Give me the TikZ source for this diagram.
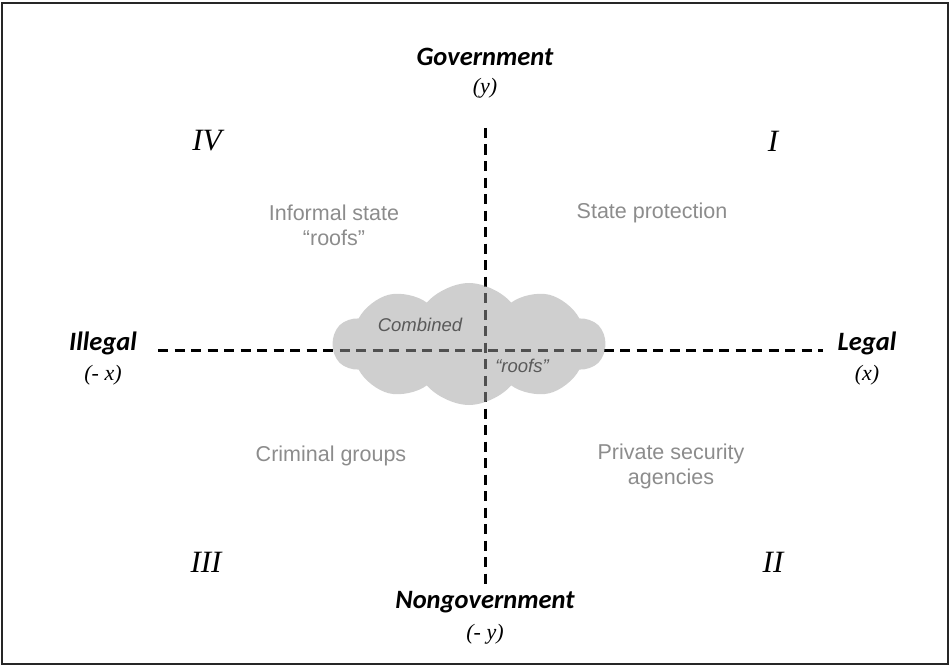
\documentclass[tikz,border=0pt]{standalone}
\usepackage{fontspec}
\setmainfont{Liberation Serif}
\setsansfont{Liberation Sans}
\newfontfamily\calfont{Carlito}
\usetikzlibrary{shapes,arrows,positioning}

\definecolor{cloudgray}{RGB}{160,160,160}
\definecolor{labelgray}{RGB}{140,140,140}

\begin{document}
\begin{tikzpicture}[x=1pt, y=-1pt, node distance=14pt]
    \tikzstyle{axis} = [draw, line width=3pt, dash pattern=on 10pt off 6.5pt]
    \tikzstyle{pole} = [inner sep=0pt, font=\calfont\bfseries\itshape\fontsize{26.5}{30}\selectfont]
    \tikzstyle{note} = [inner sep=0pt, font=\itshape\fontsize{22}{26}\selectfont]
    \tikzstyle{quad} = [inner sep=0pt, font=\itshape\fontsize{31}{36}\selectfont]
    \tikzstyle{kind} = [inner sep=0pt, align=center, text=labelgray, font=\sffamily\fontsize{21.5}{25}\selectfont]
    \tikzstyle{inner} = [inner sep=0pt, text=black!65, font=\sffamily\itshape\fontsize{18.5}{22}\selectfont]

    \useasboundingbox (0,0) rectangle (950,666);
    \draw[line width=2.2pt, black!85] (2,3) rectangle (948,664);

    % axes
    \coordinate (top) at (485,128);
    \coordinate (bottom) at (485,587);
    \coordinate (left) at (158,350);
    \coordinate (right) at (823,350);
    \path[axis] (left) -- (right);
    \path[axis] (top) -- (bottom);

    % poles
    \node[pole] (gov) at (485,57) {Government};
    \node[note, below=12pt of gov] (govy) {(y)};
    \node[pole] (nongov) at (485,602) {Nongovernment};
    \node[note, below=11pt of nongov] (nongovy) {(- y)};
    \node[pole] (illegal) at (103,343) {Illegal};
    \node[note, below=10pt of illegal] (illegalx) {(- x)};
    \node[pole] (legal) at (867,343) {Legal};
    \node[note, below=10pt of legal] (legalx) {(x)};

    % quadrants
    \node[quad] (q4) at (207,141) {IV};
    \node[quad] (q1) at (773,141) {I};
    \node[quad] (q3) at (206,562) {III};
    \node[quad] (q2) at (773,562) {II};

    \node[kind] (informal) at (334,225) {Informal state\\“roofs”};
    \node[kind] (state) at (652,213) {State protection};
    \node[kind] (criminal) at (331,456) {Criminal groups};
    \node[kind] (private) at (671,466) {Private security\\agencies};

    % cloud in the middle
    \node[cloud, cloud puffs=10, cloud puff arc=100, aspect=2.2, minimum width=272pt,
          minimum height=122pt, inner sep=0pt, fill=cloudgray, fill opacity=0.5] (combined) at (469,344) {};
    \node[inner] (combinedtext) at (420,325) {Combined};
    \node[inner] (roofstext) at (522,366) {“roofs”};
\end{tikzpicture}
\end{document}
